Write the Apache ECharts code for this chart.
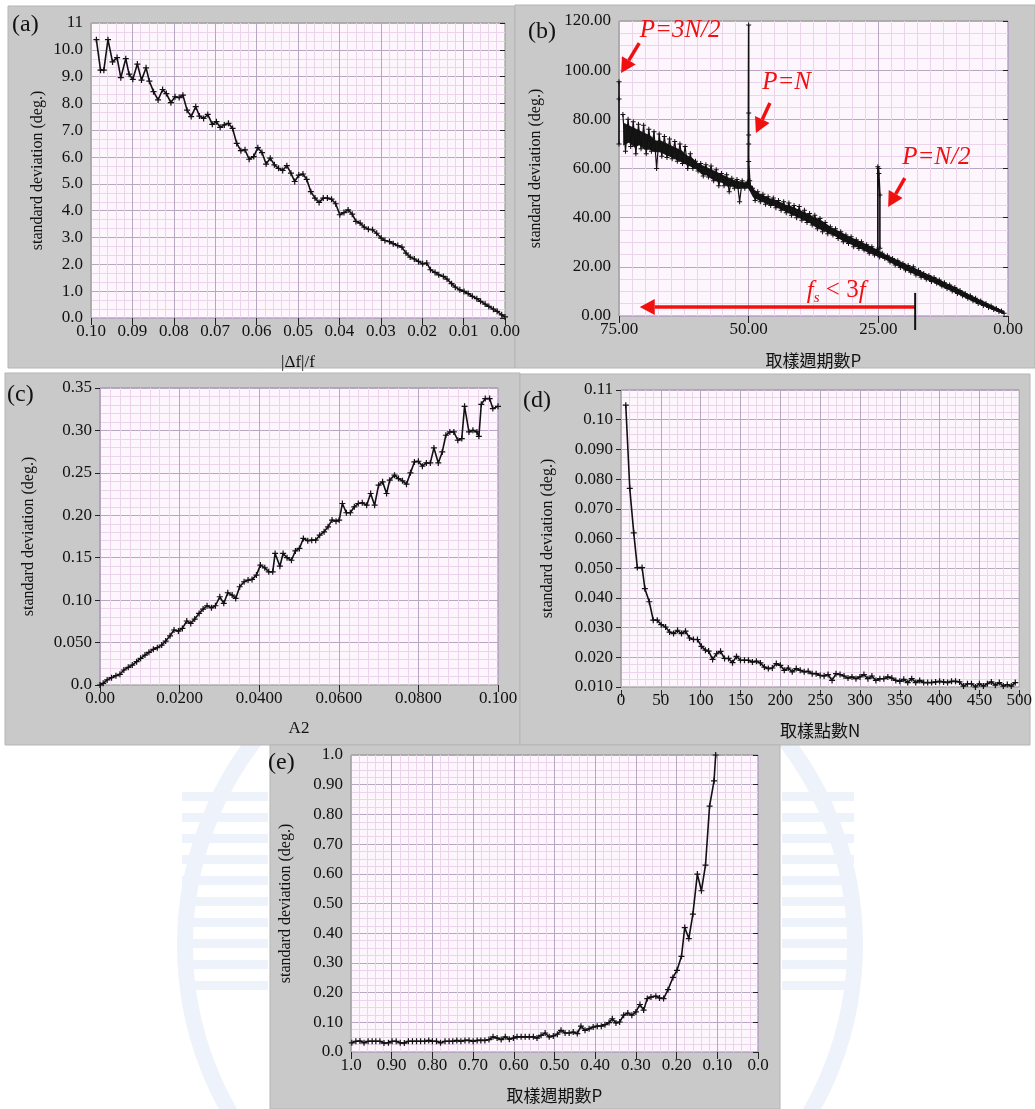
<!DOCTYPE html>
<html><head><meta charset="utf-8">
<script src="https://cdn.jsdelivr.net/npm/echarts@6/dist/echarts.min.js"></script>
<style>html,body{margin:0;padding:0;background:#fff;}#c{width:1035px;height:1109px;}</style>
</head><body><div id="c"></div>
<script>
// ---------------- DATA ----------------
// (a) std dev vs |Δf|/f
const aPoints = [[0.0987,10.38],[0.0977,9.24],[0.0969,9.24],[0.0959,10.38],[0.0948,9.55],[0.0937,9.71],[0.0928,8.96],[0.0916,9.67],[0.0908,9.09],[0.0899,8.90],[0.0888,9.47],[0.0878,8.87],[0.0867,9.33],[0.0859,8.83],[0.0849,8.44],[0.0838,8.13],[0.0827,8.52],[0.0818,8.37],[0.0807,8.03],[0.0797,8.25],[0.0787,8.22],[0.0778,8.31],[0.0768,7.75],[0.0758,7.51],[0.0747,7.88],[0.0738,7.53],[0.0728,7.44],[0.0718,7.59],[0.0707,7.22],[0.0697,7.32],[0.0688,7.11],[0.0678,7.20],[0.0668,7.26],[0.0658,7.07],[0.0648,6.51],[0.0638,6.24],[0.0628,6.27],[0.0618,5.92],[0.0607,6.02],[0.0597,6.35],[0.0587,6.17],[0.0577,5.74],[0.0567,5.96],[0.0557,5.71],[0.0547,5.58],[0.0537,5.50],[0.0527,5.68],[0.0517,5.40],[0.0508,5.09],[0.0498,5.33],[0.0488,5.37],[0.0479,5.17],[0.0469,4.71],[0.0459,4.47],[0.0449,4.31],[0.0439,4.47],[0.0429,4.47],[0.0419,4.43],[0.0409,4.26],[0.0399,3.85],[0.0389,3.93],[0.0379,4.03],[0.0369,3.87],[0.0360,3.60],[0.0350,3.54],[0.0340,3.39],[0.0330,3.31],[0.0320,3.29],[0.0310,3.16],[0.0299,2.98],[0.0290,2.89],[0.0279,2.85],[0.0270,2.77],[0.0259,2.70],[0.0249,2.64],[0.0239,2.42],[0.0229,2.27],[0.0219,2.20],[0.0209,2.11],[0.0199,2.02],[0.0189,2.05],[0.0180,1.80],[0.0169,1.70],[0.0160,1.61],[0.0149,1.55],[0.0140,1.45],[0.0129,1.28],[0.0120,1.15],[0.0109,1.05],[0.0099,0.99],[0.0089,0.91],[0.0079,0.81],[0.0068,0.72],[0.0059,0.62],[0.0048,0.52],[0.0039,0.43],[0.0028,0.33],[0.0019,0.25],[0.0008,0.12],[0.0000,0.04]];
const aXLabels = ['0.00','0.01','0.02','0.03','0.04','0.05','0.06','0.07','0.08','0.09','0.10'];
const aYLabels = ['0.0','1.0','2.0','3.0','4.0','5.0','6.0','7.0','8.0','9.0','10.0','11'];

// (b) std dev vs sampling periods P : band envelope (upper/lower) per P, plus spikes
const bBandP  = [74,73,72,71,70,69,68,67,66,65,64,63,62,61,60,59,58,57,56,55,54,53,52,51,50,49,48,47,46,45,44,43,42,41,40,39,38,37,36,35,34,33,32,31,30,29,28,27,26,25,24,23,22,21,20,19,18,17,16,15,14,13,12,11,10,9,8,7,6,5,4,3,2,1];
const bBandHi = [82,80,79,78,77.6,76,75,74,73,72,71,70,69,66,63,62,61.5,61,59.5,58,57.5,56,55.5,55,54.5,52,50.5,49.5,48.5,48,47,46.5,46,45,44.5,43,41.7,41,39.7,38,36.3,35.5,34.3,33,32.2,31,30.2,29,28.2,27,25.5,24.5,23.4,22.5,21.4,20.5,20,18.5,17.3,16.5,15.7,14.6,13.5,12.6,11.6,10.4,9.2,8.2,7.2,6.1,5.1,4.1,3.1,2.0];
const bBandLo = [67,69,66,68,66,67,60,65,64.5,64,63,62,60,60,59,57,56.5,55,53,53,50.5,52,46.5,52,52,47,46.5,45.5,45,44,43,42,41,40,39,38,37,35.5,34.3,33.5,33,31.5,30.2,29.5,28.2,27.5,26.8,25.5,24.8,24,23.4,22,20.7,19.7,18.7,17.8,16.7,15.8,14.9,14,13.3,12.2,11.2,10.2,9.2,8.2,7.2,6.2,5.1,4.3,3.5,2.6,1.8,1.1];
// dense core of the band (where most samples lie)
const bCoreHi = [78,77,76,75,74,73,71,71,70,69,68,67,65,64,62,61,60,59,58,57,56,55,54.5,54,54,51,49.5,48.5,47.5,47,46,45,44.5,43.5,42.5,41.5,40.5,39.5,38.5,37,35.5,34.5,33.5,32.3,31.4,30.4,29.4,28.4,27.4,26.4,25,24,23,22,21,20,19.2,18,17,16.1,15.2,14.2,13.1,12.1,11.1,10,8.9,7.9,6.8,5.8,4.8,3.8,2.8,1.8];
const bCoreLo = [70,71,69,70,68,68,67,67,66,65,64,63,62,61,60,58,57.5,56,55,54.5,53,53,52,52.5,52.5,48.5,47.5,46.5,45.5,45,44,43,42,41,40,39,38,36.5,35.5,34.5,33.5,32.5,31.2,30.2,29.2,28.2,27.4,26.2,25.5,24.5,23.8,22.6,21.4,20.4,19.3,18.4,17.4,16.4,15.4,14.5,13.7,12.6,11.6,10.6,9.6,8.6,7.6,6.6,5.6,4.6,3.8,2.9,2.1,1.3];
const bSpike75 = [[75,95.3],[75,88.3],[75,70]];
const bSpike50 = [[50.1,54],[50,118.4],[50,82.6],[50,73.6],[50,70],[50,62.8],[49.8,55],[49.6,52]];
const bSpike25 = [[25.1,27],[25.1,60.7],[24.9,60],[24.9,58],[24.7,49.2],[24.7,27.6]];
const bXLabels = ['0.00','25.00','50.00','75.00'];
const bYLabels = ['0.00','20.00','40.00','60.00','80.00','100.00','120.00'];

// (c) std dev vs A2
const cPoints = [[0,0],[0.0008,0.002],[0.0018,0.006],[0.0029,0.0086],[0.004,0.011],[0.005,0.0126],[0.006,0.0177],[0.0071,0.0208],[0.0081,0.0235],[0.0092,0.0275],[0.0102,0.0314],[0.0113,0.0353],[0.0123,0.0385],[0.0134,0.042],[0.0144,0.044],[0.0155,0.047],[0.0165,0.0518],[0.0176,0.058],[0.0186,0.0648],[0.0197,0.0636],[0.0207,0.0667],[0.0218,0.0754],[0.0228,0.0726],[0.0238,0.0777],[0.0249,0.0844],[0.0259,0.0895],[0.0269,0.0934],[0.028,0.091],[0.029,0.0934],[0.0301,0.104],[0.0311,0.0962],[0.0321,0.1087],[0.0332,0.106],[0.0341,0.102],[0.0351,0.1158],[0.0362,0.1217],[0.0372,0.1236],[0.0382,0.1244],[0.0393,0.1295],[0.0403,0.1413],[0.0414,0.1381],[0.0424,0.1334],[0.0434,0.1334],[0.044,0.155],[0.0452,0.140],[0.046,0.155],[0.047,0.150],[0.0481,0.147],[0.0491,0.158],[0.0501,0.161],[0.0511,0.1727],[0.0522,0.170],[0.0532,0.1707],[0.0542,0.1707],[0.0552,0.1766],[0.0563,0.1805],[0.0573,0.1864],[0.0583,0.1943],[0.0593,0.1931],[0.0601,0.1943],[0.0609,0.2139],[0.0619,0.203],[0.0629,0.203],[0.0639,0.21],[0.0649,0.2139],[0.0659,0.2147],[0.067,0.2119],[0.068,0.2257],[0.069,0.2119],[0.07,0.2355],[0.071,0.2394],[0.072,0.2257],[0.0728,0.2414],[0.074,0.2473],[0.075,0.2433],[0.076,0.2406],[0.077,0.2367],[0.078,0.25],[0.079,0.2629],[0.08,0.2637],[0.081,0.2578],[0.082,0.2617],[0.083,0.2617],[0.0839,0.2794],[0.085,0.2617],[0.086,0.2747],[0.0869,0.2943],[0.0879,0.2982],[0.0889,0.2982],[0.0899,0.2884],[0.0909,0.2904],[0.0916,0.3284],[0.0927,0.2982],[0.0937,0.3002],[0.0947,0.2982],[0.0952,0.293],[0.0958,0.3308],[0.0968,0.3375],[0.0979,0.3375],[0.0987,0.3257],[0.1,0.3284]];
const cXLabels = ['0.00','0.0200','0.0400','0.0600','0.0800','0.100'];
const cYLabels = ['0.0','0.050','0.10','0.15','0.20','0.25','0.30','0.35'];

// (d) std dev vs number of samples N
const dPoints = [[6,0.1049],[11,0.0769],[16,0.0619],[20.5,0.0502],[26.5,0.0502],[30,0.0431],[35.5,0.0387],[40.5,0.0325],[45.5,0.0325],[50.5,0.031],[56,0.0302],[61,0.0285],[66,0.028],[71,0.0291],[76,0.028],[81,0.0288],[86,0.0265],[91,0.026],[96,0.026],[101,0.0237],[106,0.0224],[110,0.0221],[115,0.0193],[120,0.0212],[125,0.022],[130,0.0196],[135,0.0196],[140,0.0182],[145,0.0203],[150,0.019],[155,0.019],[160,0.019],[165,0.0184],[170,0.0187],[175,0.0181],[180,0.0167],[185,0.0162],[190,0.0164],[195,0.0179],[200,0.0173],[205,0.0156],[210,0.0164],[215,0.0151],[220,0.0162],[225,0.0156],[230,0.0151],[235,0.0153],[240,0.0145],[245,0.0145],[250,0.0139],[255,0.0137],[260,0.0142],[265,0.0122],[270,0.0145],[275,0.0142],[280,0.0137],[285,0.013],[290,0.0134],[295,0.0128],[300,0.0134],[305,0.0142],[310,0.0128],[315,0.0137],[320,0.0122],[325,0.0128],[330,0.0128],[335,0.0134],[340,0.013],[345,0.0122],[350,0.0119],[355,0.0126],[360,0.0115],[365,0.0128],[370,0.0115],[375,0.0122],[380,0.0115],[385,0.0115],[390,0.0115],[395,0.0117],[400,0.0119],[405,0.0117],[410,0.0115],[415,0.0119],[420,0.0119],[425,0.0117],[430,0.0103],[435,0.0111],[440,0.0111],[445,0.0100],[450,0.0111],[455,0.0103],[460,0.0111],[465,0.0117],[470,0.0106],[475,0.0115],[480,0.0103],[485,0.0108],[490,0.0103],[495,0.0115]];
const dXLabels = ['0','50','100','150','200','250','300','350','400','450','500'];
const dYLabels = ['0.010','0.020','0.030','0.040','0.050','0.060','0.070','0.080','0.090','0.10','0.11'];

// (e) std dev vs sampling periods P (small P)
const ePoints = [[0.998,0.031],[0.988,0.036],[0.978,0.037],[0.968,0.031],[0.958,0.036],[0.948,0.036],[0.939,0.036],[0.929,0.036],[0.919,0.030],[0.908,0.031],[0.899,0.036],[0.889,0.036],[0.879,0.031],[0.869,0.030],[0.859,0.036],[0.849,0.036],[0.839,0.036],[0.829,0.036],[0.819,0.036],[0.809,0.039],[0.8,0.036],[0.79,0.036],[0.78,0.031],[0.769,0.036],[0.759,0.036],[0.75,0.036],[0.74,0.039],[0.73,0.036],[0.72,0.039],[0.71,0.039],[0.7,0.036],[0.69,0.039],[0.681,0.039],[0.671,0.039],[0.661,0.042],[0.651,0.051],[0.641,0.047],[0.631,0.042],[0.621,0.051],[0.611,0.043],[0.601,0.047],[0.592,0.051],[0.582,0.051],[0.572,0.051],[0.562,0.051],[0.552,0.051],[0.543,0.047],[0.533,0.056],[0.523,0.064],[0.513,0.051],[0.503,0.054],[0.493,0.06],[0.484,0.073],[0.474,0.064],[0.464,0.064],[0.454,0.067],[0.444,0.062],[0.435,0.087],[0.425,0.073],[0.415,0.078],[0.405,0.084],[0.395,0.087],[0.385,0.087],[0.376,0.092],[0.366,0.099],[0.358,0.112],[0.349,0.098],[0.34,0.101],[0.33,0.124],[0.32,0.131],[0.31,0.124],[0.3,0.135],[0.29,0.16],[0.281,0.141],[0.272,0.18],[0.263,0.185],[0.251,0.188],[0.242,0.182],[0.232,0.18],[0.221,0.21],[0.209,0.251],[0.199,0.275],[0.188,0.322],[0.18,0.419],[0.17,0.382],[0.16,0.464],[0.149,0.599],[0.139,0.543],[0.129,0.629],[0.119,0.828],[0.108,0.913],[0.104,1.0]];
const eXLabels = ['0.0','0.10','0.20','0.30','0.40','0.50','0.60','0.70','0.80','0.90','1.0'];
const eYLabels = ['0.0','0.10','0.20','0.30','0.40','0.50','0.60','0.70','0.80','0.90','1.0'];

// ---------------- CHART ----------------
const SERIF = "'Liberation Serif','Times New Roman',serif";
const CJK = "'Noto Sans CJK TC','Noto Sans CJK SC',sans-serif";
const MAJOR = '#b7a7c2', MINOR = '#edd4ed', PLOTBG = '#fdf6fd', PANEL = '#c9c9c9';
const PLUS = 'path://M4,0h2v4h4v2h-4v4h-2v-4h-4v-2h4z';

function lab(arr, step, base){ return v => { const i = Math.round((v-(base||0))/step); return arr[i] !== undefined ? arr[i] : ''; }; }

function xAx(gi, o){
  return {type:'value', gridIndex:gi, min:o.min, max:o.max, interval:o.interval, inverse:!!o.inverse,
    position:'bottom', offset:3,
    axisLine:{show:false},
    axisTick:{show:true, length:7, lineStyle:{color:'#222'}},
    axisLabel:{margin:2, color:'#111', fontFamily:SERIF, fontSize:17, formatter:o.fmt, showMinLabel:true, showMaxLabel:true, hideOverlap:false},
    splitLine:{show:true, lineStyle:{color:MAJOR, width:1}},
    minorTick:{show:false, splitNumber:o.minor},
    minorSplitLine:{show:true, lineStyle:{color:MINOR, width:1}},
    name:o.name, nameLocation:'middle', nameGap:o.nameGap,
    nameTextStyle:{fontFamily:o.nameFont||SERIF, fontSize:17, color:'#111'}};
}
function yAx(gi, o){
  return {type:'value', gridIndex:gi, min:o.min, max:o.max, interval:o.interval,
    position:'left', offset:4,
    axisLine:{show:false},
    axisTick:{show:true, length:5, lineStyle:{color:'#222'}},
    axisLabel:{margin:4, color:'#111', fontFamily:SERIF, fontSize:17, formatter:o.fmt, showMinLabel:true, showMaxLabel:true, hideOverlap:false},
    splitLine:{show:true, lineStyle:{color:MAJOR, width:1}},
    minorTick:{show:false, splitNumber:o.minor},
    minorSplitLine:{show:true, lineStyle:{color:MINOR, width:1}},
    name:'standard deviation (deg.)', nameLocation:'middle', nameGap:o.nameGap, nameRotate:90,
    nameTextStyle:{fontFamily:SERIF, fontSize:16, color:'#111'}};
}
function grid(l,t,w,h){ return {left:l, top:t, width:w, height:h, show:true, backgroundColor:PLOTBG, borderColor:'#8a8a8a', borderWidth:1, containLabel:false}; }
function lineSeries(i, data, size, width){
  return {type:'line', xAxisIndex:i, yAxisIndex:i, data:data, symbol:PLUS, symbolSize:size||6, showSymbol:true,
    lineStyle:{color:'#111', width:width||1.6}, itemStyle:{color:'#111'}, clip:true, animation:false, silent:true, z:5};
}

// band of (b): zigzag between upper and lower envelope
const bBand = [];
bBandP.forEach((p,i)=>{ bBand.push([p+0.25, bBandHi[i]]); bBand.push([p-0.25, bBandLo[i]]); });
const bCore = bBandP.map((p,i)=>[p, bCoreHi[i], bCoreLo[i]]);

const chart = echarts.init(document.getElementById('c'), null, {renderer:'canvas'});

// background: faint watermark + gray panels
const WM = '#eef2fa';
const bg = [];
bg.push({type:'circle', shape:{cx:520, cy:945, r:335}, style:{fill:'none', stroke:WM, lineWidth:16}, z:-200, silent:true});
for (let k=0;k<10;k++){
  bg.push({type:'rect', shape:{x:182, y:792+k*21, width:86, height:9}, style:{fill:WM}, z:-199, silent:true});
  bg.push({type:'rect', shape:{x:782, y:792+k*21, width:72, height:9}, style:{fill:WM}, z:-199, silent:true});
}
[[8,6,507,362],[515,5,520,363],[5,373,515,372],[520,374,510,371],[270,745,510,364]].forEach(r=>{
  bg.push({type:'rect', shape:{x:r[0], y:r[1], width:r[2], height:r[3]}, style:{fill:PANEL, stroke:'#b5b5b5', lineWidth:1}, z:-100, silent:true});
});
const panelLabels = [['(a)',12,25],['(b)',528,32],['(c)',7,395],['(d)',523,401],['(e)',268,763]];
panelLabels.forEach(p=>{
  bg.push({type:'text', x:p[1], y:p[2], style:{text:p[0], font:'24px '+SERIF, fill:'#111', textVerticalAlign:'middle'}, z:50, silent:true});
});

chart.setOption({
  animation:false,
  backgroundColor:'#ffffff',
  grid:[grid(91,23,414,295), grid(619,21,389,295), grid(100,388,398,297), grid(621,390,399,297), grid(351,755,407,297)],
  xAxis:[
    xAx(0,{min:0,max:0.1,interval:0.01,inverse:true,minor:5,fmt:lab(aXLabels,0.01),name:'|Δf|/f',nameGap:33}),
    xAx(1,{min:0,max:75,interval:25,inverse:true,minor:10,fmt:lab(bXLabels,25),name:'取樣週期數P',nameGap:33,nameFont:CJK}),
    xAx(2,{min:0,max:0.1,interval:0.02,minor:8,fmt:lab(cXLabels,0.02),name:'A2',nameGap:32}),
    xAx(3,{min:0,max:500,interval:50,minor:5,fmt:lab(dXLabels,50),name:'取樣點數N',nameGap:32,nameFont:CJK}),
    xAx(4,{min:0,max:1,interval:0.1,inverse:true,minor:5,fmt:lab(eXLabels,0.1),name:'取樣週期數P',nameGap:32,nameFont:CJK})
  ],
  yAxis:[
    yAx(0,{min:0,max:11,interval:1,minor:3,fmt:lab(aYLabels,1),nameGap:41}),
    yAx(1,{min:0,max:120,interval:20,minor:4,fmt:lab(bYLabels,20),nameGap:71}),
    yAx(2,{min:0,max:0.35,interval:0.05,minor:5,fmt:lab(cYLabels,0.05),nameGap:59}),
    yAx(3,{min:0.01,max:0.11,interval:0.01,minor:4,fmt:lab(dYLabels,0.01,0.01),nameGap:61}),
    yAx(4,{min:0,max:1,interval:0.1,minor:4,fmt:lab(eYLabels,0.1),nameGap:53})
  ],
  series:[
    lineSeries(0,aPoints),
    {type:'custom', xAxisIndex:1, yAxisIndex:1, data:bCore, clip:true, silent:true, z:4,
      renderItem:(params, api)=>{
        if (params.dataIndex !== 0) return null;
        const top = [], bot = [];
        for (let i=0;i<bCore.length;i++){
          top.push(api.coord([bCore[i][0], bCore[i][1]]));
          bot.push(api.coord([bCore[i][0], bCore[i][2]]));
        }
        return {type:'polygon', shape:{points: top.concat(bot.reverse())}, style:{fill:'#161616', stroke:'#161616', lineWidth:2}};
      }},
    lineSeries(1,bBand,5,1.2),
    lineSeries(1,bSpike75,5,1.6),
    lineSeries(1,bSpike50,5,1.6),
    lineSeries(1,bSpike25,5,1.6),
    lineSeries(2,cPoints),
    lineSeries(3,dPoints),
    lineSeries(4,ePoints)
  ],
  graphic:{elements:bg}
});

// ---------- annotations on (b), anchored in data coordinates ----------
const bAnnText = [
  {t:'{i|P=3N/2}', at:[71,116]},
  {t:'{i|P=N}', at:[47.4,95]},
  {t:'{i|P=N/2}', at:[20.4,64.7]},
  {t:'{i|f}{s|s}{r| < 3}{i|f}', at:[38.8,10.2]}
];
const bAnnArrows = [
  {from:[71.1,111], to:[74.6,98.8]},
  {from:[45.9,86.6], to:[48.6,74.4]},
  {from:[19.9,56.1], to:[23.1,44.3]},
  {from:[17.9,3.7], to:[71,3.7]}
];
const bMarkLine = {p:17.9, from:9.4, to:-5.7};

function px(pt){ return chart.convertToPixel({xAxisIndex:1, yAxisIndex:1}, pt); }
const ann = [];
const RED = '#f01010';
bAnnText.forEach(a=>{
  const p = px(a.at);
  ann.push({type:'text', x:p[0], y:p[1], silent:true, z:60, style:{text:a.t, textVerticalAlign:'middle', rich:{
    i:{font:'italic 25px '+SERIF, fill:RED},
    s:{font:'italic 15px '+SERIF, fill:RED, padding:[14,0,0,0]},
    r:{font:'25px '+SERIF, fill:RED}
  }}});
});
bAnnArrows.forEach(a=>{
  const p1 = px(a.from), p2 = px(a.to);
  const dx = p2[0]-p1[0], dy = p2[1]-p1[1], L = Math.hypot(dx,dy), ux = dx/L, uy = dy/L;
  const hl = 15, hw = 8;
  const bx = p2[0]-ux*hl, by = p2[1]-uy*hl;
  ann.push({type:'line', shape:{x1:p1[0], y1:p1[1], x2:bx, y2:by}, style:{stroke:RED, lineWidth:3.5}, z:60, silent:true});
  ann.push({type:'polygon', shape:{points:[[p2[0],p2[1]],[bx-uy*hw,by+ux*hw],[bx+uy*hw,by-ux*hw]]}, style:{fill:RED}, z:60, silent:true});
});
const m1 = px([bMarkLine.p,bMarkLine.from]), m2 = px([bMarkLine.p,bMarkLine.to]);
ann.push({type:'line', shape:{x1:m1[0], y1:m1[1], x2:m2[0], y2:m2[1]}, style:{stroke:'#111', lineWidth:2}, z:60, silent:true});

chart.setOption({graphic:{elements:bg.concat(ann)}});
</script>
</body></html>
